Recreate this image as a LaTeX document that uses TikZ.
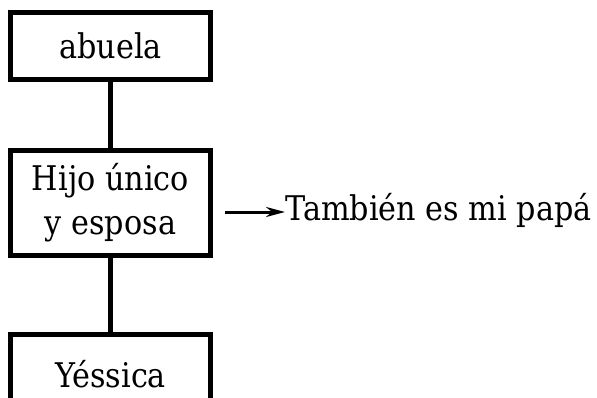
\documentclass[tikz,border=0pt]{standalone}
\usepackage{fontspec}
\setmainfont[FakeStretch=0.89]{DejaVu Serif}
\usetikzlibrary{arrows.meta}
\begin{document}
\begin{tikzpicture}[x=1pt,y=1pt]
		\clip (0,0) rectangle (597,397);
		\tikzset{box/.style={draw, rectangle, line width=5pt, minimum width=200pt, align=center, font=\fontsize{34}{44}\selectfont}}
		% Nodes
		\node[box, minimum height=67pt] (abuela) at (110.5,351) {abuela};
		\node[box, minimum height=105pt] (hijo) at (110.5,194) {Hijo único\\y esposa};
		\node[box, minimum height=80pt] (yessica) at (110.5,22.5) {Yéssica};
		\node[anchor=base west, inner sep=0pt, font=\fontsize{34}{44}\selectfont] (papa) at (285,177) {También es mi papá};
		% Lines
		\draw[line width=5pt] (abuela) -- (hijo);
		\draw[line width=5pt] (hijo) -- (yessica);
		\draw[-{Stealth[length=19pt,width=10pt]}, line width=3pt] ([xshift=12pt,yshift=8pt]hijo.east |- papa.base west) -- ([yshift=8pt]papa.base west);
	\end{tikzpicture}
\end{document}
